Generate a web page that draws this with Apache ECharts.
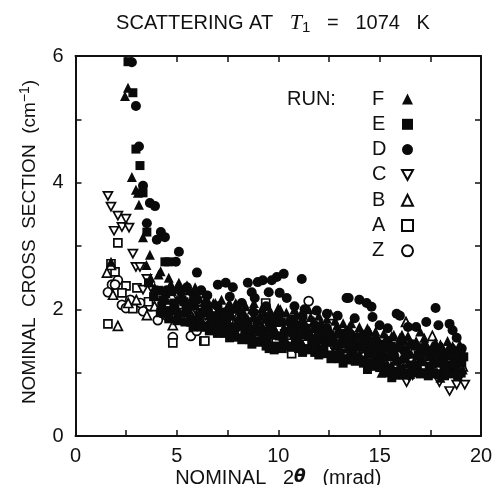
<!DOCTYPE html>
<html><head><meta charset="utf-8">
<style>html,body{margin:0;padding:0;background:#fff}#c{width:496px;height:485px}</style>
<script src="https://cdn.jsdelivr.net/npm/echarts@6/dist/echarts.min.js"></script>
</head><body><div id="c"></div>
<script>
const xTickLabels = ['0','5','10','15','20'];
const yTickLabels = ['0','2','4','6'];
const runF = [[2.44,5.37],[2.59,5.5],[2.78,4.09],[2.98,3.89],[3.08,3.84],[3.13,3.65],[3.33,3.14],[3.67,2.86],[1.75,2.75],[3.5,2.7],[3.7,2.5],[3.9,2.35],[4.1,2.55],[4.3,2.3],[4.5,2.15],[4.7,2.4],[4.9,2.05],[5.1,2.42],[5.3,2.2],[5.5,2.38],[5.7,2.1],[5.9,2.35],[6.1,2.18],[6.3,2.02],[6.5,2.15],[6.7,1.95],[6.9,2.1],[7.1,2],[7.3,1.88],[7.5,2.05],[7.7,1.92],[7.9,2.1],[8.1,1.8],[8.3,1.95],[8.5,1.85],[8.7,2],[8.9,1.78],[9.1,1.9],[9.3,1.95],[9.5,1.72],[9.7,1.88],[9.9,1.8],[10.1,2],[10.3,1.7],[10.5,1.85],[10.7,1.75],[10.9,1.92],[11.1,1.65],[11.3,1.8],[11.5,2],[11.7,1.7],[11.9,1.62],[12.1,1.8],[12.3,1.55],[12.5,1.7],[12.7,1.58],[12.9,1.75],[13.1,1.5],[13.3,1.65],[13.5,1.72],[13.7,1.45],[13.9,1.6],[14.1,1.52],[14.3,1.38],[14.5,1.65],[14.7,1.42],[14.9,1.55],[15.1,1.3],[15.3,1.45],[15.5,1.35],[15.7,1.6],[15.9,1.22],[16.1,1.42],[16.3,1.3],[16.5,1.5],[16.7,1.18],[16.9,1.35],[17.1,1.25],[17.3,1.45],[17.5,1.12],[17.7,1.3],[17.9,1.2],[18.1,1.4],[18.3,1.08],[18.5,1.28],[18.7,1.15],[18.9,1.35],[19.1,1.05]];
const runFUpper = [[4.2,2.6],[4.6,2.5],[5,2.35],[5.6,2.3],[6,2.22],[6.4,2.25],[6.8,2.1],[7.2,2.15],[7.6,2.1],[8,2.03],[8.4,2.05],[8.8,2.1],[9.2,2.02],[9.6,1.98],[10,2.02],[10.4,1.95],[10.8,2],[11.2,1.98],[11.6,1.88],[12,1.9],[12.4,1.85],[12.8,1.82],[13.2,1.78],[13.6,1.78],[14,1.72],[14.4,1.7],[14.8,1.65],[15.2,1.62],[15.6,1.58],[16,1.55],[16.4,1.58],[16.8,1.5],[17.2,1.55],[17.6,1.42],[18,1.45],[18.4,1.4],[18.8,1.3],[19.1,1.3]];
const runFMiddle = [[4.4,1.95],[5,2.15],[5.6,2],[6.2,1.85],[6.8,1.8],[7.4,1.72],[8,1.85],[8.6,1.7],[9.2,1.75],[9.8,1.7],[10.4,1.5],[11,1.55],[11.6,1.6],[12.2,1.45],[12.8,1.5],[13.4,1.38],[14,1.3],[14.6,1.5],[15.2,1.25],[15.8,1.4],[16.4,1.15],[17,1.4],[17.6,1.15],[18.2,1.2],[18.8,1.1]];
const runFFill = [[5.15,1.95],[5.75,2.2],[6.35,2.12],[6.95,1.95],[7.55,1.9],[8.15,2],[8.75,1.88],[9.35,1.85],[9.95,1.6],[10.55,1.68],[11.15,1.72],[11.75,1.82],[12.35,1.72],[12.95,1.62],[13.55,1.5],[14.15,1.62],[14.75,1.3],[15.35,1.55],[15.95,1.45],[16.55,1.3],[17.15,1.45],[17.75,1.48],[18.35,1.5],[18.95,1.45],[15.1,1],[15.55,1.1],[16.1,1.6],[17,1.65],[16.5,0.98],[18,0.92],[18.6,1.42]];
const runE = [[2.59,5.91],[2.83,5.42],[2.98,4.53],[3.18,4.27],[3.33,3.84],[3.52,3.22],[4.41,2.75],[4.6,2.75],[3.6,2.42],[3.85,2.2],[4.05,2.3],[4.25,2.05],[4.45,2.25],[4.65,1.98],[4.85,2.1],[5.05,1.9],[5.25,2.15],[5.45,2],[5.65,1.85],[5.85,2.05],[6.05,1.8],[6.25,1.95],[6.45,1.72],[6.65,1.9],[6.85,1.7],[7.05,1.85],[7.25,1.65],[7.45,1.8],[7.65,1.7],[7.85,1.62],[8.05,1.75],[8.25,1.55],[8.45,1.72],[8.65,1.58],[8.85,1.68],[9.05,1.48],[9.25,1.62],[9.45,1.52],[9.65,1.7],[9.85,1.42],[10.05,1.58],[10.25,1.48],[10.45,1.65],[10.65,1.4],[10.85,1.55],[11.05,1.42],[11.25,1.6],[11.45,1.38],[11.65,1.5],[11.85,1.4],[12.05,1.52],[12.25,1.35],[12.45,1.48],[12.65,1.28],[12.85,1.42],[13.05,1.3],[13.25,1.45],[13.45,1.22],[13.65,1.35],[13.85,1.25],[14.05,1.4],[14.25,1.2],[14.45,1.3],[14.65,1.15],[14.85,1.28],[15.05,1.2],[15.25,1.1],[15.45,1.25],[15.65,1.02],[15.85,1.18],[16.05,1.05],[16.25,1.22],[16.45,1],[16.65,1.12],[16.85,1.05],[17.05,1.18],[17.25,1],[17.45,1.1],[17.65,1],[17.85,1.15],[18.05,0.98],[18.25,1.1],[18.45,1],[18.65,1.12],[18.85,0.95],[19.05,1.15]];
const runELower = [[4.2,1.95],[4.6,1.85],[5,1.82],[5.4,1.8],[5.8,1.72],[6.2,1.72],[6.6,1.66],[7,1.62],[7.4,1.62],[7.8,1.56],[8.2,1.52],[8.6,1.52],[9,1.5],[9.4,1.42],[9.8,1.36],[10.2,1.38],[10.6,1.42],[11,1.38],[11.4,1.36],[11.8,1.32],[12.2,1.3],[12.6,1.22],[13,1.22],[13.4,1.2],[13.8,1.18],[14.2,1.15],[14.6,1.1],[15,1.08],[15.4,1],[15.8,0.96],[16.2,0.96],[16.6,1],[17,0.98],[17.4,0.95],[17.8,0.98],[18.2,0.95],[18.6,0.98],[19,1]];
const runEMiddle = [[4.3,2.15],[4.9,2],[5.5,1.95],[6.1,1.9],[6.7,1.85],[7.3,1.8],[7.9,1.72],[8.5,1.8],[9.1,1.65],[9.7,1.6],[10.3,1.62],[10.9,1.65],[11.5,1.58],[12.1,1.6],[12.7,1.55],[13.3,1.5],[13.9,1.42],[14.5,1.42],[15.1,1.35],[15.7,1.3],[16.3,1.35],[16.9,1.28],[17.5,1.25],[18.1,1.22],[18.7,1.25]];
const runEFill = [[4.75,2.28],[5.35,2.12],[5.95,2.15],[6.55,2],[7.15,1.75],[7.75,2],[8.35,1.62],[8.95,1.82],[9.55,1.8],[10.15,1.8],[10.75,1.85],[11.35,1.7],[11.95,1.7],[12.55,1.6],[13.15,1.62],[13.75,1.5],[14.35,1.52],[14.95,1.45],[15.55,1.42],[16.15,1.5],[16.75,1.42],[17.35,1.35],[17.95,1.32],[18.55,1.35],[19.15,1.25],[7.6,1.55],[8.7,1.45],[9.55,1.38],[11.2,1.32],[12,1.28],[13.2,1.15],[14.4,1.05],[15.6,0.92]];
const runD = [[2.78,5.9],[2.98,5.21],[3.13,4.57],[3.33,3.95],[3.67,3.68],[3.92,3.63],[3.52,3.36],[4.21,3.22],[4.41,3.14],[4.01,3.1],[5.1,2.91],[4.95,2.75],[5.99,2.58],[5.5,2.35],[6.2,2.3],[6.5,2.22],[7.02,2.39],[7.41,2.42],[7.76,2.35],[7.61,2.2],[8.5,2.42],[8.99,2.43],[9.24,2.46],[9.68,2.46],[9.93,2.51],[10.27,2.56],[11.16,2.48],[8.69,2.27],[8.84,2.18],[9.53,2.27],[10.07,2.26],[10.42,2.18],[10.8,2.05],[11.3,2],[11.9,1.98],[12.4,1.93],[12.93,1.9],[13.37,2.18],[13.47,2.18],[14,2.15],[14.36,2.1],[14.6,2.04],[13.77,1.86],[14.65,1.88],[15,1.75],[15.4,1.7],[15.84,1.93],[16,1.9],[16.4,1.72],[16.8,1.72],[17.3,1.8],[17.76,2.02],[17.9,1.75],[18.45,1.77],[18.6,1.67],[18.8,1.55],[19.05,1.38],[7.3,1.95],[8.2,1.9],[9.6,1.85],[11,1.75],[12.2,1.65],[13.2,1.55],[14.2,1.5],[15.3,1.4],[16.2,1.35],[17.4,1.3],[18.2,1.25],[19,1.2]];
const runDMiddle = [[4.5,2.3],[5.2,2.28],[5.8,2.25],[6.4,2.05],[7,2.05],[7.6,2],[8.2,2.1],[8.8,1.95],[9.4,2.05],[10,1.9],[10.6,1.78],[11.2,1.88],[11.8,1.75],[12.4,1.7],[13,1.62],[13.6,1.6],[14.2,1.6],[14.8,1.5],[15.4,1.5],[16,1.42],[16.6,1.45],[17.2,1.38],[17.8,1.35],[18.4,1.3],[19,1.3]];
const runC = [[1.6,3.79],[1.75,3.62],[2.09,3.48],[2.49,3.43],[2.29,3.3],[1.9,3.24],[2.64,3.29],[2.83,2.88],[2.98,2.67],[3.18,2.67],[3.52,2.48],[3.33,2.31],[3.8,2.3],[4.3,2.1],[4.6,1.95],[5,2.2],[5.4,2.05],[5.9,2],[6.4,1.9],[7,1.85],[7.6,1.78],[8.2,1.72],[8.8,1.6],[9.5,1.65],[10.1,1.55],[10.8,1.5],[11.4,1.45],[12,1.42],[12.7,1.4],[13.3,1.3],[14,1.3],[14.6,1.25],[15.2,1.15],[15.8,1.1],[16.33,0.85],[16.45,0.94],[16.63,0.96],[17.2,1.05],[17.95,0.85],[18.1,0.95],[18.45,0.71],[18.8,0.81],[19.2,0.81],[18.95,0.93]];
const runB = [[1.75,2.7],[1.55,2.58],[1.85,2.23],[2.09,1.74],[3.52,1.91],[4.8,1.75],[2.6,2.1],[3,2.15],[3.9,2.05],[4.4,1.95],[5.2,1.9],[5.8,1.85],[6.6,1.8],[7.3,1.75],[8,1.9],[8.9,1.7],[9.7,1.75],[10.5,1.6],[11.2,1.8],[11.8,1.55],[12.59,1.91],[13.2,1.55],[13.9,1.55],[14.5,1.63],[15,1.4],[15.7,1.35],[16.3,1.8],[16.9,1.2],[17.6,1.58],[18.2,1.2],[18.7,1.35],[19.1,1.1]];
const runA = [[1.75,2.72],[1.95,2.59],[2.09,3.05],[2.49,2.37],[2.29,2.26],[3.03,2.34],[2.83,2.01],[1.6,1.77],[4.8,1.47],[6.33,1.5],[6.38,1.5],[3.6,2.12],[4.2,1.95],[5.2,1.95],[5.7,1.8],[7.1,1.72],[7.8,1.65],[8.5,1.6],[9.38,2.1],[9.9,1.5],[10.66,1.3],[11.3,1.5],[12,1.38],[12.8,1.45],[13.5,1.3],[14.2,1.3],[15,1.15],[15.6,1.3],[16.4,1.1],[17,1.15],[17.8,1.05],[18.4,1.12],[19,1]];
const runZ = [[2.09,2.46],[1.8,2.39],[1.95,2.39],[1.6,2.27],[2.29,2.07],[2.49,2.02],[3.33,1.97],[4.06,1.83],[4.8,1.56],[5.69,1.58],[5.98,1.66],[2.7,2.15],[3.2,2.1],[3.7,2.05],[4.5,1.9],[5.3,1.85],[6.6,1.75],[7.4,1.68],[8.2,1.75],[9,1.65],[9.8,1.6],[10.4,1.7],[11.5,2.13],[11.9,1.5],[12.6,1.5],[13.3,1.42],[14.1,1.35],[14.9,1.3],[15.5,1.2],[16.2,1.2],[17,1.1],[17.7,1.15],[18.3,1],[19,1.05]];
const downTriangle = 'path://M0,0 L10,0 L5,9 Z';
const runs = [
  ['Z',runZ,'circle',false],
  ['A',runA,'rect',false],
  ['B',runB,'triangle',false],
  ['C',runC,downTriangle,false],
  ['D',runD.concat(runDMiddle),'circle',true],
  ['E',runE.concat(runELower,runEMiddle,runEFill),'rect',true],
  ['F',runF.concat(runFUpper,runFMiddle,runFFill),'triangle',true]
];
const legendOrder = ['F','E','D','C','B','A','Z'];
const font = '"Liberation Sans", Arial, sans-serif';
const chart = echarts.init(document.getElementById('c'), null, {renderer:'canvas'});
const axisCommon = {
  axisLine:{show:true,onZero:false,lineStyle:{color:'#111',width:2}},
  axisTick:{show:true,inside:true,length:6,lineStyle:{color:'#111',width:1.5}},
  splitLine:{show:false}
};
chart.setOption({
  animation:false,
  backgroundColor:'#fff',
  grid:{left:75.5,right:15,top:56,bottom:49,outerBoundsMode:'none'},
  title:{
    left:268,top:7,textAlign:'center',
    text:'SCATTERING AT   {t|T}{s|1}   =   1074   K',
    textStyle:{fontFamily:font,fontSize:20,fontWeight:'normal',color:'#111',
      rich:{t:{fontFamily:'"Liberation Serif", serif',fontStyle:'italic',fontSize:22,color:'#111'},
            s:{fontFamily:font,fontSize:15,color:'#111',verticalAlign:'bottom',padding:[8,0,0,0]}}}
  },
  legend:{
    left:367,top:84,orient:'vertical',align:'right',itemWidth:11,itemHeight:11,itemGap:5.3,
    data:legendOrder,selectedMode:false,
    formatter:n=>'{a|'+n+'}',
    textStyle:{fontFamily:font,fontSize:20,color:'#111',rich:{a:{fontFamily:font,fontSize:20,color:'#111',width:25,height:20,lineHeight:20,align:'left'}}}
  },
  graphic:[{type:'text',left:287,top:89,style:{text:'RUN:',font:'20px '+font,fill:'#111'}}],
  xAxis:[
    Object.assign({type:'value',min:0,max:20,interval:2.5,position:'bottom',
      name:'NOMINAL   2{th|θ}   (mrad)',nameLocation:'middle',nameGap:32,nameMoveOverlap:false,
      nameTextStyle:{fontFamily:font,fontSize:20,color:'#111',rich:{th:{fontFamily:'"DejaVu Sans"',fontStyle:'italic',fontWeight:'bold',fontSize:17,color:'#111'}}},
      axisLabel:{margin:10,fontFamily:font,fontSize:20,color:'#111',formatter:v=>xTickLabels.includes(String(v))?String(v):''}},axisCommon),
    Object.assign({type:'value',min:0,max:20,interval:2.5,position:'top',axisLabel:{show:false}},axisCommon)
  ],
  yAxis:[
    Object.assign({type:'value',min:0,max:6,interval:1,position:'left',
      name:'NOMINAL  CROSS  SECTION  (cm{sup|−1})',nameLocation:'middle',nameGap:35,
      nameTextStyle:{fontFamily:font,fontSize:19,color:'#111',padding:[0,0,0,8],rich:{sup:{fontFamily:font,fontSize:14,color:'#111',verticalAlign:'top',padding:[0,0,8,0]}}},
      axisLabel:{margin:12,fontFamily:font,fontSize:20,color:'#111',formatter:v=>yTickLabels.includes(String(v))?String(v):''}},axisCommon),
    Object.assign({type:'value',min:0,max:6,interval:1,position:'right',axisLabel:{show:false}},axisCommon)
  ],
  series:runs.map(([name,data,sym,filled])=>({
    name,type:'scatter',data,symbol:sym,symbolKeepAspect:true,
    symbolSize: sym==='rect'?(filled?9:8):(filled?10:9),
    itemStyle:{color:filled?'#0a0a0a':'#fff',borderColor:'#0a0a0a',borderWidth:filled?0:1.7,opacity:1},
    clip:false,silent:true
  }))
});
</script></body></html>
